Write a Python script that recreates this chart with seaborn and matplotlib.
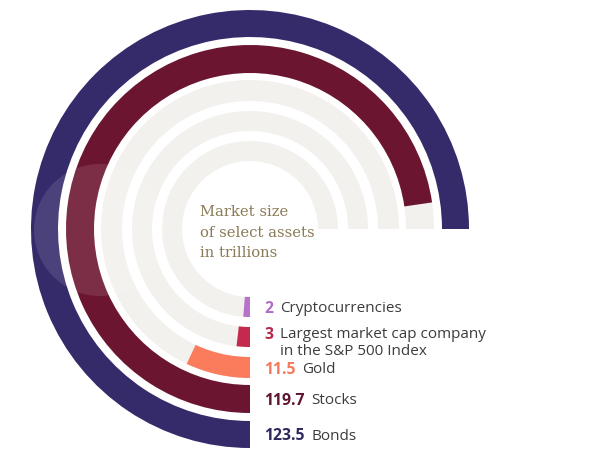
import numpy as np
import matplotlib
matplotlib.use("Agg")
import matplotlib.pyplot as plt
from matplotlib.patches import Circle
import seaborn as sns

# ---- data ----
categories = ["Cryptocurrencies",
              "Largest market cap company\nin the S&P 500 Index",
              "Gold", "Stocks", "Bonds"]
values = [2, 3, 11.5, 119.7, 123.5]
value_labels = ["2", "3", "11.5", "119.7", "123.5"]
scale_max = 123.5          # value that fills the whole 270-degree track
title_lines = ["Market size", "of select assets", "in trillions"]

# ---- styles ----
bar_colors = ["#b673c9", "#c42a4e", "#fb7c5c", "#6b1530", "#352b6b"]
num_colors = ["#b06cc6", "#b8284c", "#f7795b", "#5e1430", "#2e295c"]
track_color = "#f3f1ee"
ring_inner = [68, 98, 128, 156, 192]
ring_thick = [20, 20, 21, 28, 27]

sns.set_theme(style="white")
plt.rcParams['font.family'] = ['Open Sans', 'DejaVu Sans']

W, H = 590, 453
fig = plt.figure(figsize=(W / 100, H / 100), dpi=100)
fig.patch.set_facecolor("white")
cx, cy, R = 250, 229, 226
ax = fig.add_axes([(cx - R) / W, (H - cy - R) / H, 2 * R / W, 2 * R / H],
                  projection="polar")
ax.set_theta_zero_location("S")
ax.set_theta_direction(-1)
ax.set_rlim(0, R)
ax.set_axis_off()

span = 1.5 * np.pi
ax.barh(y=ring_inner, width=[span] * len(values), height=ring_thick, left=0,
        align="edge", color=track_color, linewidth=0)
ax.barh(y=ring_inner, width=np.array(values) / scale_max * span,
        height=ring_thick, left=0, align="edge", color=bar_colors, linewidth=0)

# faint light overlay seen on the left side of the outer rings
fig.patches.append(Circle((100, H - 230), 66, transform=None,
                          facecolor="white", alpha=0.11, linewidth=0))

fig.canvas.draw()
renderer = fig.canvas.get_renderer()
for i, (cat, vl) in enumerate(zip(categories, value_labels)):
    rc = ring_inner[i] + ring_thick[i] / 2
    dy = 2 if "\n" in cat else -2
    t = ax.annotate(vl, xy=(0, rc), xytext=(14, dy), textcoords="offset pixels",
                    ha="left", va="center", fontsize=11.3,
                    fontweight="bold", color=num_colors[i])
    w = t.get_window_extent(renderer).width
    ax.annotate(cat, xy=(0, rc), xytext=(14 + w + 7, dy - (8 if "\n" in cat else 0)),
                textcoords="offset pixels", ha="left", va="center",
                fontsize=11, color="#3c3c3c", linespacing=1.1)

for line, base in zip(title_lines, [216, 237, 257]):
    fig.text(200 / W, 1 - base / H, line, ha="left", va="baseline",
             fontsize=10.6, family=["DejaVu Serif"], color="#8b7b56")

fig.savefig("out.png", dpi=100, facecolor="white")
